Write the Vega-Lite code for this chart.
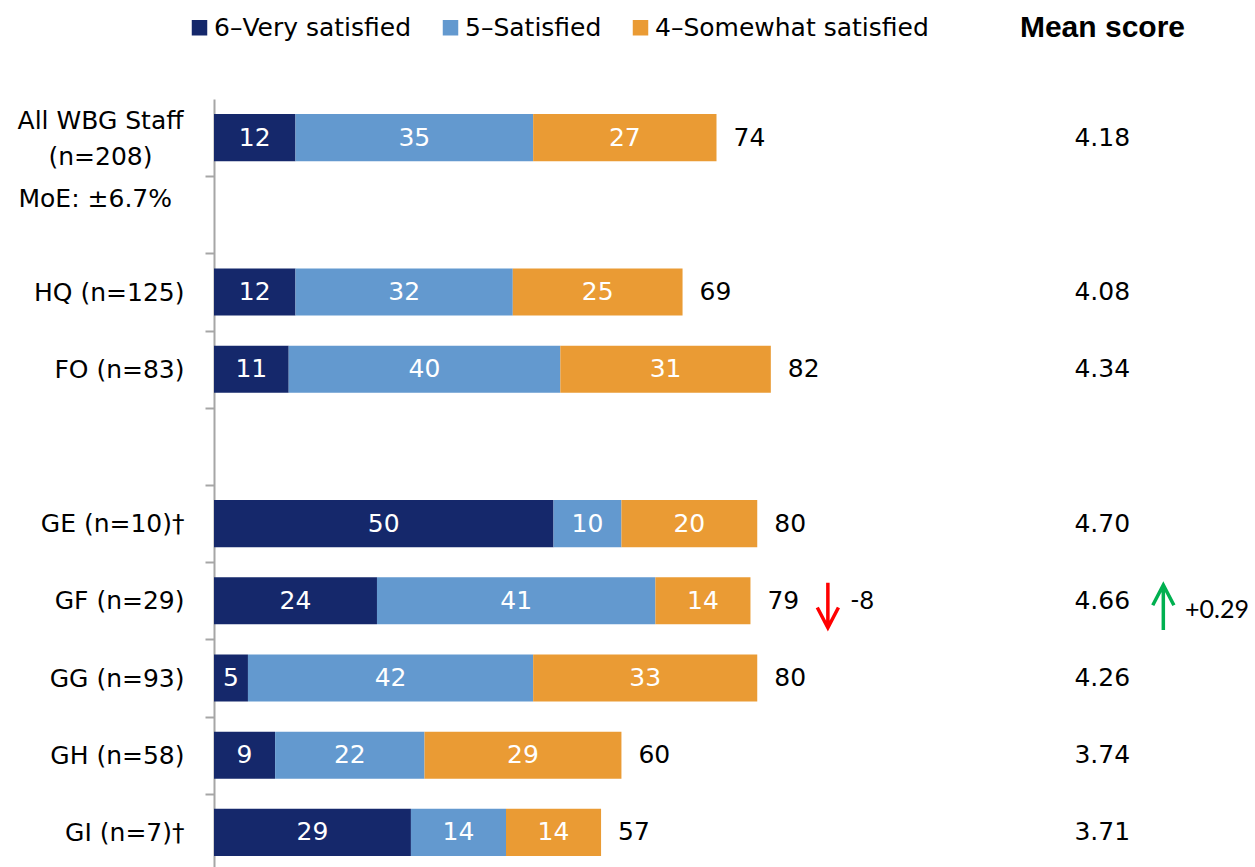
{
  "$schema": "https://vega.github.io/schema/vega-lite/v6.json",
  "width": 1041,
  "height": 768,
  "autosize": {"type": "none"},
  "padding": {"left": 214, "top": 99, "right": 0, "bottom": 0},
  "background": "#ffffff",
  "config": {"view": {"stroke": null}, "font": "DejaVu Sans"},
  "title": {"text": "Mean score", "anchor": "end", "frame": "group", "dx": -70, "dy": 32, "offset": -20, "baseline": "alphabetic", "font": "Liberation Sans", "fontSize": 30, "fontWeight": "bold", "color": "#000000"},
  "datasets": {
    "seg": [
      {"group": "All WBG Staff (n=208)", "level": "6–Very satisfied", "k": 1, "pct": 12},
      {"group": "All WBG Staff (n=208)", "level": "5–Satisfied", "k": 2, "pct": 35},
      {"group": "All WBG Staff (n=208)", "level": "4–Somewhat satisfied", "k": 3, "pct": 27},
      {"group": "HQ (n=125)", "level": "6–Very satisfied", "k": 1, "pct": 12},
      {"group": "HQ (n=125)", "level": "5–Satisfied", "k": 2, "pct": 32},
      {"group": "HQ (n=125)", "level": "4–Somewhat satisfied", "k": 3, "pct": 25},
      {"group": "FO (n=83)", "level": "6–Very satisfied", "k": 1, "pct": 11},
      {"group": "FO (n=83)", "level": "5–Satisfied", "k": 2, "pct": 40},
      {"group": "FO (n=83)", "level": "4–Somewhat satisfied", "k": 3, "pct": 31},
      {"group": "GE (n=10)†", "level": "6–Very satisfied", "k": 1, "pct": 50},
      {"group": "GE (n=10)†", "level": "5–Satisfied", "k": 2, "pct": 10},
      {"group": "GE (n=10)†", "level": "4–Somewhat satisfied", "k": 3, "pct": 20},
      {"group": "GF (n=29)", "level": "6–Very satisfied", "k": 1, "pct": 24},
      {"group": "GF (n=29)", "level": "5–Satisfied", "k": 2, "pct": 41},
      {"group": "GF (n=29)", "level": "4–Somewhat satisfied", "k": 3, "pct": 14},
      {"group": "GG (n=93)", "level": "6–Very satisfied", "k": 1, "pct": 5},
      {"group": "GG (n=93)", "level": "5–Satisfied", "k": 2, "pct": 42},
      {"group": "GG (n=93)", "level": "4–Somewhat satisfied", "k": 3, "pct": 33},
      {"group": "GH (n=58)", "level": "6–Very satisfied", "k": 1, "pct": 9},
      {"group": "GH (n=58)", "level": "5–Satisfied", "k": 2, "pct": 22},
      {"group": "GH (n=58)", "level": "4–Somewhat satisfied", "k": 3, "pct": 29},
      {"group": "GI (n=7)†", "level": "6–Very satisfied", "k": 1, "pct": 29},
      {"group": "GI (n=7)†", "level": "5–Satisfied", "k": 2, "pct": 14},
      {"group": "GI (n=7)†", "level": "4–Somewhat satisfied", "k": 3, "pct": 14}
    ],
    "tot": [
      {"group": "All WBG Staff (n=208)", "total": 74, "mean": 4.18},
      {"group": "HQ (n=125)", "total": 69, "mean": 4.08},
      {"group": "FO (n=83)", "total": 82, "mean": 4.34},
      {"group": "GE (n=10)†", "total": 80, "mean": 4.70},
      {"group": "GF (n=29)", "total": 79, "mean": 4.66},
      {"group": "GG (n=93)", "total": 80, "mean": 4.26},
      {"group": "GH (n=58)", "total": 60, "mean": 3.74},
      {"group": "GI (n=7)†", "total": 57, "mean": 3.71}
    ],
    "chg": [
      {"group": "GF (n=29)", "measure": "total", "delta": "-8"},
      {"group": "GF (n=29)", "measure": "mean", "delta": "+0.29"}
    ]
  },
  "encoding": {
    "y": {
      "field": "group",
      "type": "nominal",
      "title": null,
      "scale": {
        "domain": ["All WBG Staff (n=208)", "MoE: ±6.7%", "HQ (n=125)", "FO (n=83)", " ", "GE (n=10)†", "GF (n=29)", "GG (n=93)", "GH (n=58)", "GI (n=7)†"],
        "range": [0, 772],
        "paddingInner": 0.39,
        "paddingOuter": 0.195
      },
      "axis": {
        "bandPosition": 1,
        "tickOffset": 15,
        "domainColor": "#A6A6A6",
        "domainWidth": 2,
        "tickColor": "#A6A6A6",
        "tickWidth": 2,
        "tickSize": 9,
        "labelFont": "DejaVu Sans",
        "labelFontSize": 25,
        "labelColor": "#000000",
        "labelLineHeight": 36,
        "labelExpr": "datum.value === 'All WBG Staff (n=208)' ? ['All WBG Staff', '(n=208)'] : datum.value",
        "labelAlign": {"condition": [{"test": "datum.value === 'All WBG Staff (n=208)'", "value": "center"}, {"test": "datum.value === 'MoE: ±6.7%'", "value": "left"}], "value": "right"},
        "labelPadding": {"condition": [{"test": "datum.value === 'All WBG Staff (n=208)'", "value": 105}, {"test": "datum.value === 'MoE: ±6.7%'", "value": 187}], "value": 21},
        "labelOffset": {"condition": [{"test": "datum.value === 'MoE: ±6.7%'", "value": -31}, {"test": "datum.value === 'All WBG Staff (n=208)'", "value": -32}], "value": -15}
      }
    }
  },
  "layer": [
    {
      "data": {"name": "seg"},
      "mark": {"type": "bar"},
      "encoding": {
        "x": {"field": "pct", "type": "quantitative", "stack": "zero", "scale": {"domain": [0, 153.3], "nice": false, "zero": true}, "axis": null},
        "color": {
          "field": "level",
          "type": "nominal",
          "scale": {"domain": ["6–Very satisfied", "5–Satisfied", "4–Somewhat satisfied"], "range": ["#15286B", "#6399CF", "#EA9B34"]},
          "legend": {
            "title": null,
            "orient": "none",
            "legendX": -27,
            "legendY": -84,
            "direction": "horizontal",
            "symbolType": "square",
            "symbolSize": 240,
            "symbolStrokeWidth": 0,
            "labelFont": "DejaVu Sans",
            "labelFontSize": 25,
            "labelColor": "#000000",
            "labelLimit": 500,
            "labelOffset": 2,
            "columnPadding": 26
          }
        },
        "order": {"field": "k", "type": "quantitative"}
      }
    },
    {
      "data": {"name": "seg"},
      "mark": {"type": "text", "font": "DejaVu Sans", "fontSize": 25, "color": "#ffffff", "align": "center", "baseline": "middle"},
      "encoding": {
        "x": {"field": "pct", "type": "quantitative", "stack": "zero", "bandPosition": 0.5},
        "detail": {"field": "level"},
        "order": {"field": "k", "type": "quantitative"},
        "text": {"field": "pct", "type": "quantitative"}
      }
    },
    {
      "data": {"name": "tot"},
      "mark": {"type": "text", "font": "DejaVu Sans", "fontSize": 25, "color": "#000000", "align": "left", "baseline": "middle", "dx": 17},
      "encoding": {
        "x": {"field": "total", "type": "quantitative"},
        "text": {"field": "total", "type": "quantitative"}
      }
    },
    {
      "data": {"name": "tot"},
      "mark": {"type": "text", "font": "DejaVu Sans", "fontSize": 25, "color": "#000000", "align": "center", "baseline": "middle"},
      "encoding": {
        "x": {"datum": 130.8, "type": "quantitative"},
        "text": {"field": "mean", "type": "quantitative", "format": ".2f"}
      }
    },
    {
      "data": {"name": "chg"},
      "transform": [{"filter": "datum.measure === 'total'"}],
      "mark": {"type": "point", "shape": "M0,-0.8L0,1.2M-0.47,0.3L0,1.2L0.47,0.3", "filled": false, "stroke": "#FF0000", "strokeWidth": 3.5, "size": 2025, "opacity": 1},
      "encoding": {"x": {"datum": 90.4, "type": "quantitative"}}
    },
    {
      "data": {"name": "chg"},
      "transform": [{"filter": "datum.measure === 'total'"}],
      "mark": {"type": "text", "font": "Lato", "fontSize": 25, "color": "#000000", "align": "left", "baseline": "middle"},
      "encoding": {"x": {"datum": 93.7, "type": "quantitative"}, "text": {"field": "delta"}}
    },
    {
      "data": {"name": "chg"},
      "transform": [{"filter": "datum.measure === 'mean'"}],
      "mark": {"type": "point", "shape": "M0,-0.7L0,1.3M-0.47,0.2L0,-0.7L0.47,0.2", "filled": false, "stroke": "#00B050", "strokeWidth": 3.5, "size": 2025, "opacity": 1},
      "encoding": {"x": {"datum": 139.8, "type": "quantitative"}}
    },
    {
      "data": {"name": "chg"},
      "transform": [{"filter": "datum.measure === 'mean'"}],
      "mark": {"type": "text", "font": "Lato", "fontSize": 25, "color": "#000000", "align": "left", "baseline": "middle", "dy": 9},
      "encoding": {"x": {"datum": 143.0, "type": "quantitative"}, "text": {"field": "delta"}}
    }
  ]
}
